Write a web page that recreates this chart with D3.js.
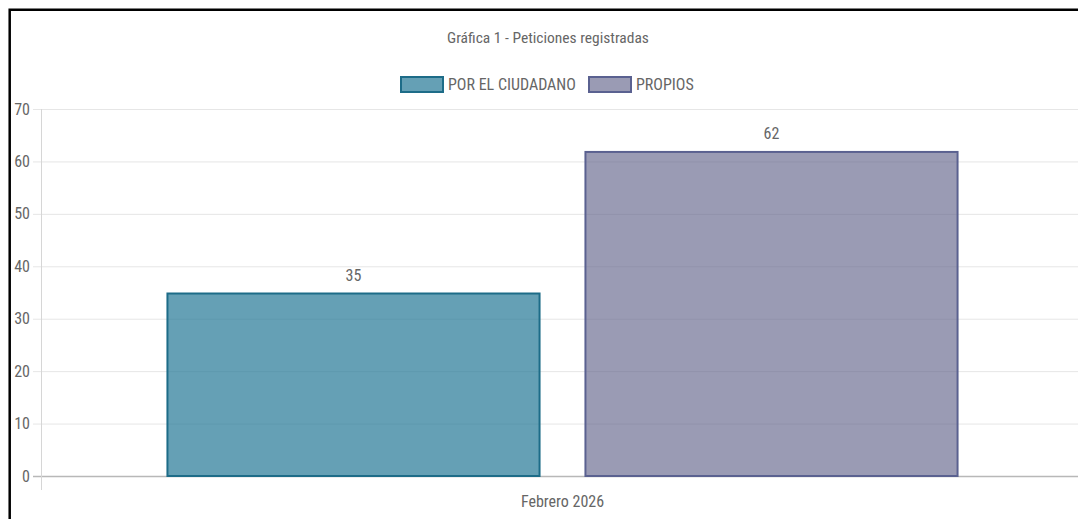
<!DOCTYPE html>
<html>
<head>
<meta charset="utf-8">
<script src="https://cdn.jsdelivr.net/npm/d3@7"></script>
<style>
  body { margin: 0; background: #fff; }
  svg { display: block; }
  text { font-family: "Liberation Sans Narrow", "Arial Narrow", "Roboto Condensed", sans-serif; fill: #666; }
</style>
</head>
<body>
<svg id="chart"></svg>
<script>
let w = 1078;
let h = 519;

// data
let categories = ["Febrero 2026"];
let series = ["POR EL CIUDADANO", "PROPIOS"];
let values = [35, 62];
let yTicks = [0, 10, 20, 30, 40, 50, 60, 70];
let title = "Gráfica 1 - Peticiones registradas";

let fills = ["rgba(35,120,150,0.70)", "rgba(100,102,140,0.65)"];
let strokes = ["#1d6c88", "#5a6190"];

let svg = d3.select("#chart")
	.attr("width", w)
	.attr("height", h);

// chart area
let areaLeft = 41, areaTop = 109, areaBottom = 476, areaRight = 1085;

let y = d3.scaleLinear()
	.domain([0, 70])
	.range([areaBottom, areaTop]);

let x = d3.scaleBand()
	.domain(categories)
	.range([areaLeft - 1, areaRight])
	.paddingInner(0)
	.paddingOuter(0);

// grid lines
svg.append("g")
	.selectAll("line")
	.data(yTicks)
	.join("line")
		.attr("x1", areaLeft - 8)
		.attr("x2", w)
		.attr("y1", d => y(d) + 0.5)
		.attr("y2", d => y(d) + 0.5)
		.attr("stroke", d => d == 0 ? "#b8b8b8" : "#e6e6e6")
		.attr("stroke-width", d => d == 0 ? 1.5 : 1);

// y axis line
svg.append("line")
	.attr("x1", areaLeft + 0.5).attr("x2", areaLeft + 0.5)
	.attr("y1", areaTop).attr("y2", areaBottom + 14)
	.attr("stroke", "#d6d6d6");

// tick labels
svg.append("g")
	.selectAll("text")
	.data(yTicks)
	.join("text")
		.attr("x", 30)
		.attr("y", d => y(d) + 5.5)
		.attr("text-anchor", "end")
		.style("font-size", "16px")
		.text(d => d);

// x labels
svg.append("g")
	.selectAll("text")
	.data(categories)
	.join("text")
		.attr("x", d => x(d) + x.bandwidth() / 2)
		.attr("y", 507)
		.attr("text-anchor", "middle")
		.style("font-size", "16px")
		.text(d => d);

// bars
let cat = categories[0];
let groupW = x.bandwidth() * 0.8;
let x1 = d3.scaleBand()
	.domain(series)
	.range([x(cat) + (x.bandwidth() - groupW) / 2, x(cat) + (x.bandwidth() + groupW) / 2])
	.paddingInner(0.105)
	.paddingOuter(0.0525);

let barData = series.map((s, i) => ({ s: s, v: values[i], i: i }));

svg.append("g")
	.selectAll("rect")
	.data(barData)
	.join("rect")
		.attr("x", d => x1(d.s) + 1)
		.attr("y", d => y(d.v) + 1)
		.attr("width", d => x1.bandwidth() - 2)
		.attr("height", d => y(0) - y(d.v) - 1)
		.attr("fill", d => fills[d.i])
		.attr("stroke", d => strokes[d.i])
		.attr("stroke-width", 2);

// value labels
svg.append("g")
	.selectAll("text")
	.data(barData)
	.join("text")
		.attr("x", d => x1(d.s) + x1.bandwidth() / 2)
		.attr("y", d => y(d.v) - 12)
		.attr("text-anchor", "middle")
		.style("font-size", "16px")
		.text(d => d.v);

// title
svg.append("text")
	.attr("x", 548)
	.attr("y", 43)
	.attr("text-anchor", "middle")
	.style("font-size", "15.5px")
	.text(title);

// legend
let legendX = [400, 588];
let legend = svg.append("g")
	.selectAll("g")
	.data(series)
	.join("g")
		.attr("transform", (d, i) => `translate(${legendX[i]},76)`);

legend.append("rect")
	.attr("x", 1).attr("y", 1)
	.attr("width", 42).attr("height", 15)
	.attr("fill", (d, i) => fills[i])
	.attr("stroke", (d, i) => strokes[i])
	.attr("stroke-width", 2);

legend.append("text")
	.attr("x", 48)
	.attr("y", 14)
	.style("font-size", "16px")
	.text(d => d);

// frame (left and top only, rest cropped)
svg.append("path")
	.attr("d", `M9.7,${h} L9.7,9.7 L${w},9.7`)
	.attr("fill", "none")
	.attr("stroke", "#000")
	.attr("stroke-width", 2.5);
</script>
</body>
</html>
